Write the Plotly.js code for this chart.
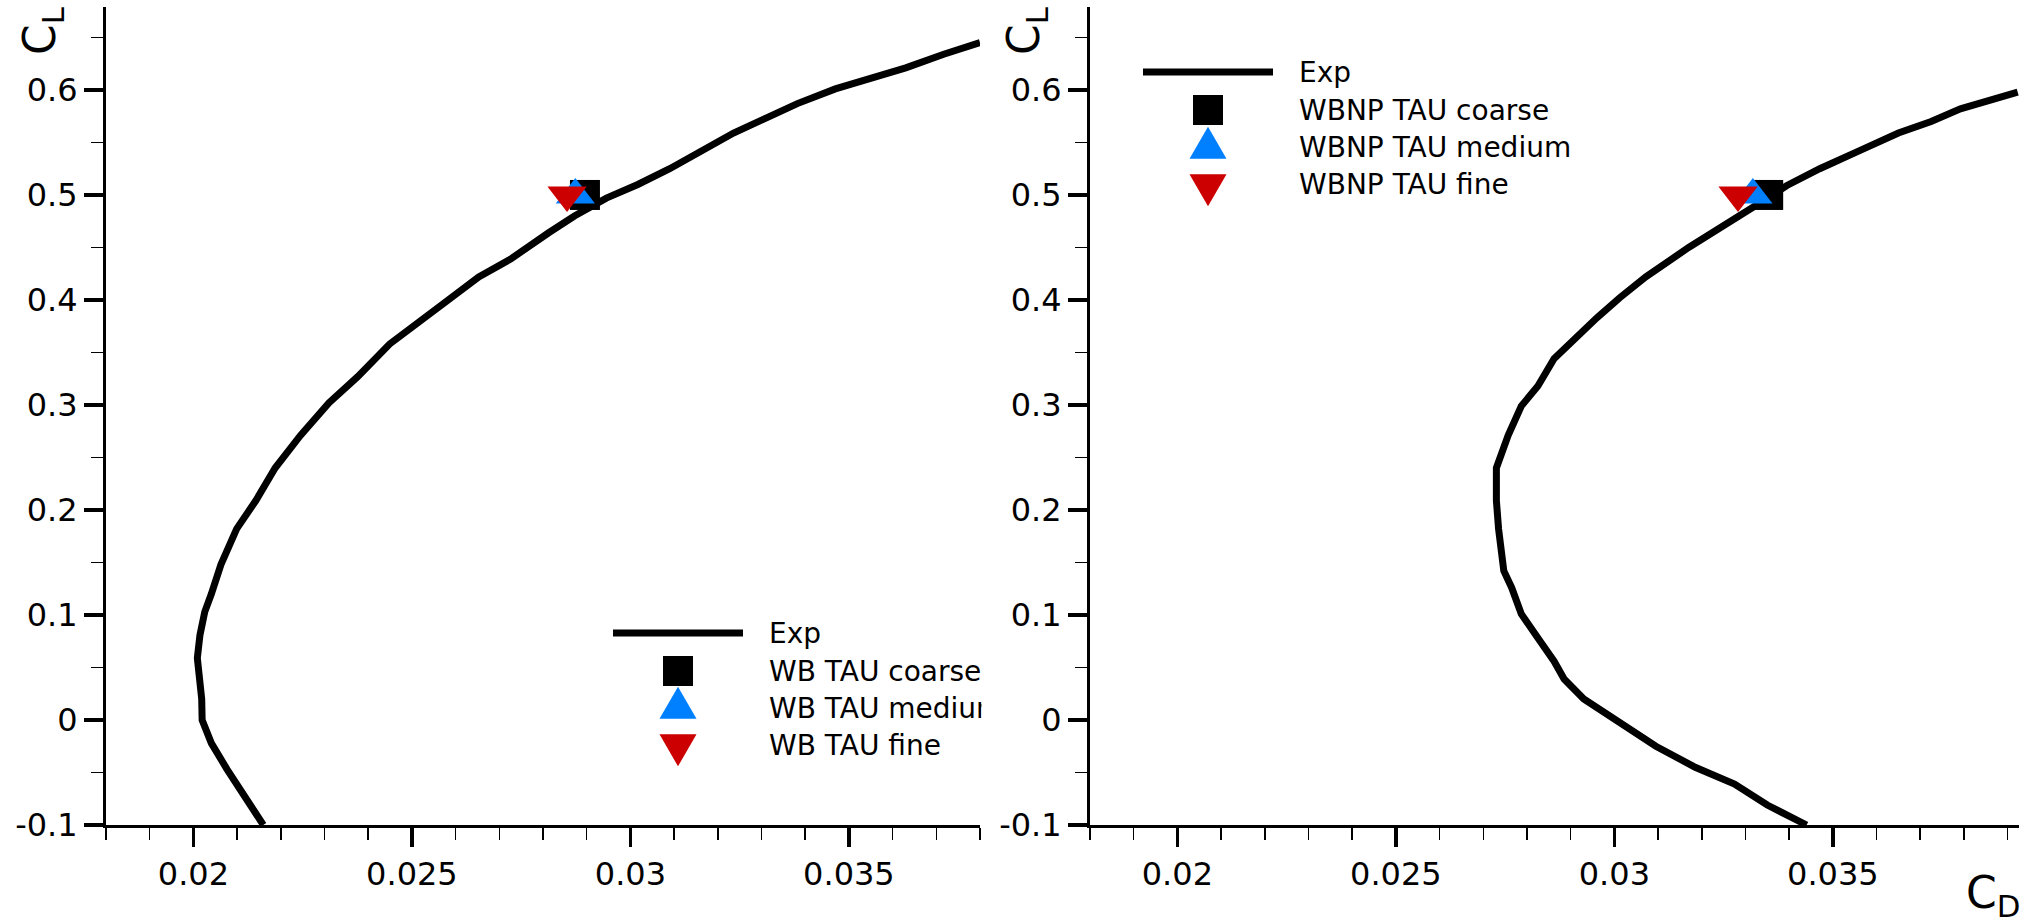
<!DOCTYPE html>
<html><head><meta charset="utf-8">
<script src="https://cdn.plot.ly/plotly-3.0.1.min.js"></script>
<style>html,body{margin:0;padding:0;background:#fff;} #chart{width:2029px;height:921px;}</style>
</head><body><div id="chart"></div>
<script>
// ---------- data: WB configuration (left panel) ----------
const wbExpCD = [0.02160,0.02118,0.02077,0.02041,0.02020,0.02019,0.02012,0.02009,0.02015,0.02026,0.02041,0.02063,0.02099,0.02143,0.02187,0.02245,0.02310,0.02376,0.02449,0.02507,0.02580,0.02653,0.02726,0.02813,0.02872,0.02945,0.03017,0.03090,0.03163,0.03236,0.03309,0.03382,0.03469,0.03542,0.03630,0.03717,0.03800];
const wbExpCL = [-0.100,-0.074,-0.047,-0.022,0.000,0.020,0.042,0.059,0.081,0.103,0.120,0.148,0.182,0.209,0.240,0.271,0.302,0.327,0.358,0.377,0.399,0.422,0.439,0.464,0.480,0.497,0.510,0.525,0.542,0.559,0.573,0.587,0.601,0.610,0.621,0.634,0.645];
const wbCoarseCD = [0.02896], wbCoarseCL = [0.5];
const wbMediumCD = [0.02874], wbMediumCL = [0.5];
const wbFineCD   = [0.02855], wbFineCL   = [0.5];

// ---------- data: WBNP configuration (right panel) ----------
const wbnpExpCD = [0.03440,0.03350,0.03275,0.03185,0.03095,0.03042,0.02997,0.02930,0.02885,0.02862,0.02825,0.02787,0.02765,0.02747,0.02735,0.02730,0.02730,0.02757,0.02787,0.02825,0.02862,0.02915,0.02960,0.03012,0.03072,0.03170,0.03245,0.03320,0.03395,0.03470,0.03560,0.03650,0.03725,0.03792,0.03923];
const wbnpExpCL = [-0.100,-0.081,-0.061,-0.045,-0.025,-0.011,0.002,0.020,0.039,0.056,0.078,0.101,0.126,0.142,0.182,0.209,0.240,0.271,0.299,0.318,0.344,0.366,0.383,0.402,0.422,0.450,0.469,0.489,0.509,0.525,0.542,0.559,0.570,0.582,0.598];
const wbnpCoarseCD = [0.03352], wbnpCoarseCL = [0.5];
const wbnpMediumCD = [0.03317], wbnpMediumCL = [0.5];
const wbnpFineCD   = [0.03283], wbnpFineCL   = [0.5];

// ---------- tick labels ----------
const xTickVals = [0.02, 0.025, 0.03, 0.035];
const xTickText = ['0.02', '0.025', '0.03', '0.035'];
const yTickVals = [-0.1, 0, 0.1, 0.2, 0.3, 0.4, 0.5, 0.6];
const yTickText = ['-0.1', '0', '0.1', '0.2', '0.3', '0.4', '0.5', '0.6'];

// ---------- legend labels ----------
const leftLegend  = ['Exp', 'WB TAU coarse', 'WB TAU medium', 'WB TAU fine'];
const rightLegend = ['Exp', 'WBNP TAU coarse', 'WBNP TAU medium', 'WBNP TAU fine'];

// ---------- styles ----------
const W = 2029, H = 921;
const px = v => v / W;
const py = v => 1 - v / H;
const FONT = 'DejaVu Sans';
const BLUE = 'rgb(0,128,255)', RED = 'rgb(204,0,0)';

function expTrace(x, y, xa, ya) {
  return {x, y, xaxis: xa, yaxis: ya, mode: 'lines', line: {color: 'black', width: 7}, showlegend: false, hoverinfo: 'skip'};
}
function mkTrace(x, y, xa, ya, symbol, color, size) {
  return {x, y, xaxis: xa, yaxis: ya, mode: 'markers', marker: {symbol, color, size, line: {width: 0}}, showlegend: false, cliponaxis: false};
}

const traces = [
  expTrace(wbExpCD, wbExpCL, 'x', 'y'),
  mkTrace(wbCoarseCD, wbCoarseCL, 'x', 'y', 'square', 'black', 30),
  mkTrace(wbMediumCD, wbMediumCL, 'x', 'y', 'triangle-up', BLUE, 34),
  mkTrace(wbFineCD, wbFineCL, 'x', 'y', 'triangle-down', RED, 34),
  expTrace(wbnpExpCD, wbnpExpCL, 'x2', 'y2'),
  mkTrace(wbnpCoarseCD, wbnpCoarseCL, 'x2', 'y2', 'square', 'black', 30),
  mkTrace(wbnpMediumCD, wbnpMediumCL, 'x2', 'y2', 'triangle-up', BLUE, 34),
  mkTrace(wbnpFineCD, wbnpFineCL, 'x2', 'y2', 'triangle-down', RED, 34)
];

function xAxis(domain, range, anchor) {
  return {
    domain, range, anchor,
    showline: true, linecolor: 'black', linewidth: 3,
    ticks: 'outside', ticklen: 19, tickwidth: 3.5, tickcolor: 'black',
    tickvals: xTickVals, ticktext: xTickText,
    tickfont: {family: FONT, size: 32, color: 'black'},
    minor: {dtick: 0.001, tick0: 0, ticks: 'outside', ticklen: 12, tickwidth: 1.5, tickcolor: 'black', showgrid: false},
    showgrid: false, zeroline: false, fixedrange: true
  };
}
function yAxis(domain, range, anchor) {
  return {
    domain, range, anchor,
    showline: true, linecolor: 'black', linewidth: 3,
    ticks: 'outside', ticklen: 19, tickwidth: 3.5, tickcolor: 'black',
    tickvals: yTickVals, ticktext: yTickText,
    tickfont: {family: FONT, size: 32, color: 'black'},
    minor: {dtick: 0.05, tick0: 0, ticks: 'outside', ticklen: 12, tickwidth: 1.5, tickcolor: 'black', showgrid: false},
    showgrid: false, zeroline: false, fixedrange: true
  };
}

const yDom = [py(825), py(7)];
const yRange = [-0.1, 0.679];

// legend geometry (pixels)
function legendParts(lineX0, lineX1, textX, rowsY, labels) {
  const cx = (lineX0 + lineX1) / 2;
  const shapes = [
    {type: 'line', xref: 'paper', yref: 'paper', x0: px(lineX0), x1: px(lineX1), y0: py(rowsY[0]), y1: py(rowsY[0]), line: {color: 'black', width: 7}},
    {type: 'rect', xref: 'paper', yref: 'paper', xsizemode: 'pixel', ysizemode: 'pixel', xanchor: px(cx), yanchor: py(rowsY[1]), x0: -15, x1: 15, y0: -15, y1: 15, fillcolor: 'black', line: {width: 0}},
    {type: 'path', xref: 'paper', yref: 'paper', xsizemode: 'pixel', ysizemode: 'pixel', xanchor: px(cx), yanchor: py(rowsY[2]), path: 'M-18.5,-10.7 L18.5,-10.7 L0,21.3 Z', fillcolor: BLUE, line: {width: 0}},
    {type: 'path', xref: 'paper', yref: 'paper', xsizemode: 'pixel', ysizemode: 'pixel', xanchor: px(cx), yanchor: py(rowsY[3]), path: 'M-18.5,10.7 L18.5,10.7 L0,-21.3 Z', fillcolor: RED, line: {width: 0}}
  ];
  const anns = labels.map((t, i) => ({
    text: t, xref: 'paper', yref: 'paper', x: px(textX), y: py(rowsY[i]), xanchor: 'left', yanchor: 'middle',
    showarrow: false, font: {family: FONT, size: 28, color: 'black'}
  }));
  return {shapes, anns};
}
const L = legendParts(613, 743, 767, [633, 671, 708, 745], leftLegend);
const R = legendParts(1143, 1273, 1297, [72, 110, 148, 185], rightLegend);

// the left legend is clipped by the frame's right edge in the original
const clipCover = {text: ' ', xref: 'paper', yref: 'paper', x: px(981), y: py(708), xanchor: 'left', yanchor: 'middle',
  width: 30, height: 34, bgcolor: 'white', borderpad: 0, showarrow: false, font: {family: FONT, size: 28}};

const titleAnns = [
  {text: 'C<sub>L</sub>', xref: 'paper', yref: 'paper', x: px(42), y: py(31), xanchor: 'center', yanchor: 'middle', textangle: -90, showarrow: false, font: {family: FONT, size: 44, color: 'black'}},
  {text: 'C<sub>L</sub>', xref: 'paper', yref: 'paper', x: px(1026), y: py(31), xanchor: 'center', yanchor: 'middle', textangle: -90, showarrow: false, font: {family: FONT, size: 44, color: 'black'}},
  {text: 'C<sub>D</sub>', xref: 'paper', yref: 'paper', x: px(1993), y: py(895), xanchor: 'center', yanchor: 'middle', showarrow: false, font: {family: FONT, size: 44, color: 'black'}}
];

const layout = {
  width: W, height: H,
  margin: {l: 0, r: 0, t: 0, b: 0, pad: 0},
  paper_bgcolor: 'white', plot_bgcolor: 'white',
  showlegend: false,
  xaxis: xAxis([px(106), px(980)], [0.018, 0.038], 'y'),
  yaxis: yAxis(yDom, yRange, 'x'),
  xaxis2: xAxis([px(1090), px(2019)], [0.018, 0.03926], 'y2'),
  yaxis2: yAxis(yDom, yRange, 'x2'),
  shapes: [...L.shapes, ...R.shapes],
  annotations: [...titleAnns, ...L.anns, clipCover, ...R.anns]
};

Plotly.newPlot('chart', traces, layout, {staticPlot: true, displayModeBar: false});
</script></body></html>
